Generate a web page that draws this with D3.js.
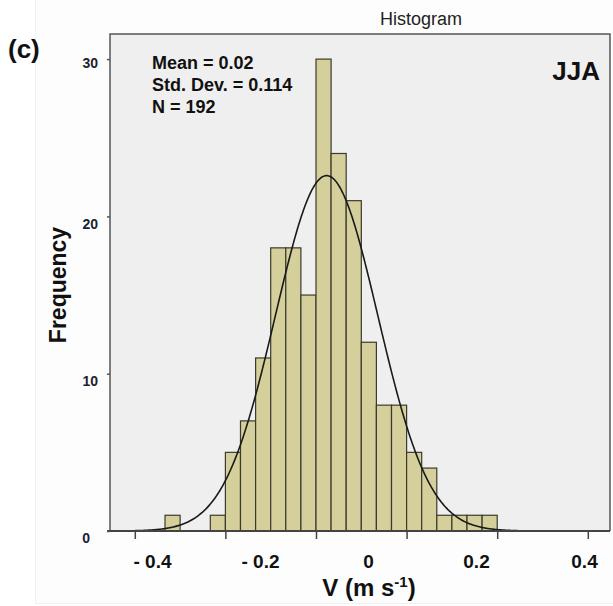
<!DOCTYPE html>
<html>
<head>
<meta charset="utf-8">
<script src="https://cdn.jsdelivr.net/npm/d3@7"></script>
<style>
  body { margin: 0; background: #fff; }
  text { font-family: "Liberation Sans", Arial, sans-serif; }
</style>
</head>
<body>
<div id="chart"></div>
<script>
// Bin left edges (m/s) and counts, bin width 1/30
var binStarts = [-0.3333, -0.3, -0.2667, -0.2333, -0.2, -0.1667, -0.1333, -0.1, -0.0667, -0.0333,
                 0, 0.0333, 0.0667, 0.1, 0.1333, 0.1667, 0.2, 0.2333, 0.2667, 0.3, 0.3333, 0.3667];
var binCounts = [1, 0, 0, 1, 5, 7, 11, 18, 18, 15, 30, 24, 21, 12, 8, 8, 5, 4, 1, 1, 1, 1];
var binWidth = 1 / 30;

// Tick marks (original axis) and the pasted-on tick labels
var xTickValues = [-0.4, -0.2, 0, 0.2, 0.4, 0.6];
var xLabelValues = [-0.4, -0.2, 0, 0.2, 0.4];
var xLabelText = ["- 0.4", "- 0.2", "0", "0.2", "0.4"];
var yTickValues = [0, 10, 20, 30];

var statsLines = ["Mean = 0.02", "Std. Dev. = 0.114", "N = 192"];

var svgWidth = 613;
var svgHeight = 606;
var plot = {left: 110, right: 610, top: 34, bottom: 531};

var svg = d3.select("#chart").append("svg")
  .attr("width", svgWidth).attr("height", svgHeight);

// faint outer frame of the pasted figure
svg.append("rect")
  .attr("x", 35.5).attr("y", -2).attr("width", 600).attr("height", 605.5)
  .attr("fill", "#fdfdfd").attr("stroke", "#f0f0f0");

var x = d3.scaleLinear()
  .domain([(plot.left - 316) / 453, (plot.right - 316) / 453])
  .range([plot.left, plot.right]);

var y = d3.scaleLinear()
  .domain([0, (plot.bottom - plot.top) / 15.73])
  .range([plot.bottom, plot.top]);

// plot background and frame
svg.append("rect")
  .attr("x", plot.left).attr("y", plot.top)
  .attr("width", plot.right - plot.left).attr("height", plot.bottom - plot.top)
  .attr("fill", "#efefef");

svg.append("path")
  .attr("d", `M${plot.left},${plot.bottom}V${plot.top}H${plot.right}V${plot.bottom}`)
  .attr("fill", "none").attr("stroke", "#555").attr("stroke-width", 1.5);

// bars
var bins = binStarts.map(function(s, i) { return {x0: s, x1: s + binWidth, n: binCounts[i]}; })
  .filter(function(d) { return d.n > 0; });

svg.append("g").selectAll("rect")
  .data(bins).enter().append("rect")
  .attr("x", d => x(d.x0))
  .attr("y", d => y(d.n))
  .attr("width", d => x(d.x1) - x(d.x0))
  .attr("height", d => y(0) - y(d.n))
  .attr("fill", "#d5cf9b")
  .attr("stroke", "#3b3a2e")
  .attr("stroke-width", 1.2);

// normal curve from the binned data
var total = d3.sum(binCounts);
var mu = d3.sum(binStarts, (s, i) => (s + binWidth / 2) * binCounts[i]) / total;
var sd = Math.sqrt(d3.sum(binStarts, (s, i) => Math.pow(s + binWidth / 2 - mu, 2) * binCounts[i]) / total);
var curveX = d3.range(x.domain()[0] + 0.007, x.domain()[1], 0.002);
var line = d3.line()
  .x(d => x(d))
  .y(d => y(total * binWidth / (sd * Math.sqrt(2 * Math.PI)) * Math.exp(-0.5 * Math.pow((d - mu) / sd, 2))))
  .curve(d3.curveBasis);

svg.append("path")
  .datum(curveX)
  .attr("d", line)
  .attr("fill", "none")
  .attr("stroke", "#1a1a1a")
  .attr("stroke-width", 1.6);

// x axis: ticks only, then baseline
var xAxis = d3.axisBottom(x).tickValues(xTickValues).tickSize(8).tickFormat("");
var xAxisDraw = svg.append("g")
  .attr("transform", `translate(0, ${plot.bottom})`)
  .call(xAxis);
xAxisDraw.select(".domain").remove();
xAxisDraw.selectAll(".tick line").attr("stroke", "#444").attr("stroke-width", 1.5);

svg.append("line")
  .attr("x1", plot.left - 3).attr("x2", plot.right)
  .attr("y1", plot.bottom).attr("y2", plot.bottom)
  .attr("stroke", "#444").attr("stroke-width", 1.8);

// x labels (relabelled axis)
var xLab = d3.scaleLinear().domain([-0.4, 0.4]).range([152, 584]);
var xLabAxis = d3.axisBottom(xLab).tickValues(xLabelValues).tickSize(0)
  .tickFormat((d, i) => xLabelText[i]);
var xLabDraw = svg.append("g")
  .attr("transform", `translate(0, ${plot.bottom + 20})`)
  .call(xLabAxis);
xLabDraw.select(".domain").remove();
xLabDraw.selectAll("text")
  .attr("font-family", "'Liberation Sans', Arial, sans-serif")
  .attr("font-size", "19px").attr("font-weight", "bold").attr("fill", "#111");

// y axis
var yAxis = d3.axisLeft(y).tickValues(yTickValues).tickSize(3).tickPadding(9);
var yAxisDraw = svg.append("g")
  .attr("transform", `translate(${plot.left}, 0)`)
  .call(yAxis);
yAxisDraw.select(".domain").remove();
yAxisDraw.selectAll(".tick line").attr("stroke", "#555").attr("stroke-width", 1.5);
yAxisDraw.selectAll("text")
  .attr("font-family", "'Liberation Sans', Arial, sans-serif")
  .attr("font-size", "14px").attr("font-weight", "bold").attr("fill", "#1c2233")
  .attr("dy", (d) => d === 30 ? "0.6em" : "0.85em")
  .attr("x", (d) => d === 0 ? -20 : -12);

// axis titles
var xTitle = svg.append("text")
  .attr("x", 369).attr("y", 596)
  .attr("text-anchor", "middle")
  .attr("font-size", "24px").attr("font-weight", "bold").attr("fill", "#111");
xTitle.append("tspan").text("V (m s");
xTitle.append("tspan").attr("font-size", "15px").attr("dy", "-9").text("-1");
xTitle.append("tspan").attr("dy", "9").text(")");

svg.append("text")
  .attr("transform", "translate(66, 285) rotate(-90)")
  .attr("text-anchor", "middle")
  .attr("font-size", "23px").attr("font-weight", "bold").attr("fill", "#111")
  .text("Frequency");

// titles and stats
svg.append("text")
  .attr("x", 421).attr("y", 25)
  .attr("text-anchor", "middle")
  .attr("font-size", "18px").attr("fill", "#222")
  .text("Histogram");

svg.append("text")
  .attr("x", 8).attr("y", 58)
  .attr("font-size", "26px").attr("font-weight", "bold").attr("fill", "#111")
  .text("(c)");

svg.append("text")
  .attr("x", 600).attr("y", 80)
  .attr("text-anchor", "end")
  .attr("font-size", "26px").attr("font-weight", "bold").attr("fill", "#111")
  .text("JJA");

svg.append("g").selectAll("text")
  .data(statsLines).enter().append("text")
  .attr("x", 152)
  .attr("y", (d, i) => 69 + i * 22)
  .attr("font-size", "18px").attr("font-weight", "bold").attr("fill", "#111")
  .text(d => d);
</script>
</body>
</html>
